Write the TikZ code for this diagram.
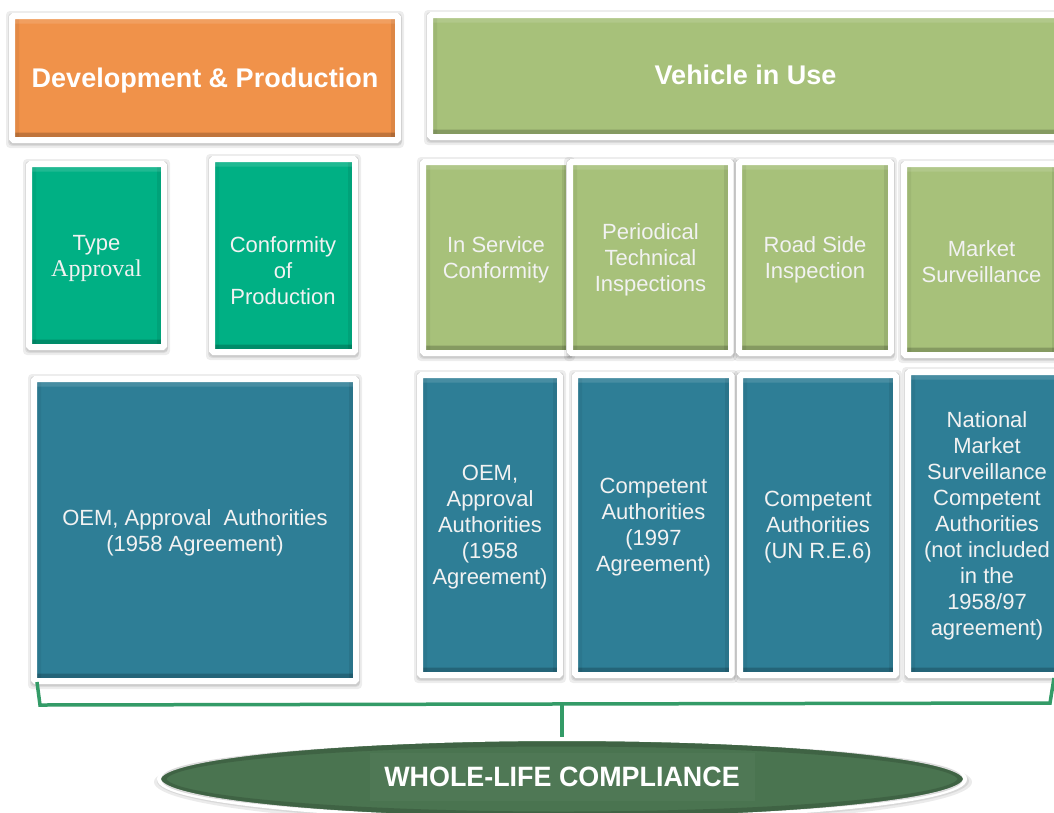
\documentclass[tikz,border=0pt]{standalone}
\usepackage{fontspec}
\setmainfont{Liberation Sans}
\newfontfamily\tmsfont{Liberation Serif}
\usepackage{graphicx}
\usetikzlibrary{shapes.geometric}
\definecolor{orangebox}{HTML}{F0924A}
\definecolor{lgreen}{HTML}{A7C17A}
\definecolor{teal}{HTML}{00B084}
\definecolor{bluebox}{HTML}{2E7E96}
\definecolor{ellgreen}{HTML}{4A7450}
\definecolor{brgreen}{HTML}{339B67}
\definecolor{offwhite}{HTML}{F2F2F2}
\tikzset{
  box/.style={rectangle, draw=white, line width=6pt, inner sep=0pt, rounded corners=1.5pt,
    path picture={
      \fill[black, opacity=0.2] (path picture bounding box.south west) rectangle ([yshift=7.5pt]path picture bounding box.south east);
      \fill[black, opacity=0.08] (path picture bounding box.south east) rectangle ([xshift=-7pt]path picture bounding box.north east);
      \fill[black, opacity=0.05] (path picture bounding box.south west) rectangle ([xshift=7pt]path picture bounding box.north west);
      \fill[white, opacity=0.12] (path picture bounding box.north west) rectangle ([yshift=-7.5pt]path picture bounding box.north east);
    }},
  softshadow/.style={fill=black, opacity=0.07, rounded corners=4pt},
  bracket/.style={draw=brgreen, line width=3.5pt},
  lbl/.style={text=offwhite, align=center, font=\fontsize{22}{26}\selectfont, inner sep=0pt},
  headlbl/.style={text=white, align=center, font=\bfseries\fontsize{27}{32}\selectfont, inner sep=0pt},
  viulbl/.style={headlbl, yshift=3.5pt}
}
% \bx{name}{x1}{y1}{x2}{y2}{colour}{text}{text style}
\newcommand\bx[8]{%
  \fill[softshadow] ({#2-9},{#3-8}) rectangle ({#4+9},{#5+11});
  \fill[softshadow] ({#2-7},{#3-6}) rectangle ({#4+7},{#5+9});
  \fill[softshadow] ({#2-6},{#3-5}) rectangle ({#4+7},{#5+8});
  \node[box, fill=#6, minimum width={#4-#2+6}, minimum height={#5-#3+6}] (#1) at ({(#2+#4)/2},{(#3+#5)/2}) {};
  \node[#8] (#1t) at ({(#2+#4)/2},{(#3+#5)/2+2.5}) {#7};}
\begin{document}
\begin{tikzpicture}[x=1pt,y=-1pt]
\useasboundingbox (0,0) rectangle (1054,812);
\fill[white] (0,0) rectangle (1054,812);
\clip (0,0) rectangle (1054,812);
% header row
\bx{dev}{15}{19}{395}{137}{orangebox}{Development \& Production}{headlbl}
\bx{viu}{433}{18}{1058}{134}{lgreen}{Vehicle in Use}{viulbl}
% second row
\bx{ta}{32}{167}{161}{344}{teal}{Type\\[0pt]{\tmsfont\fontsize{24}{26}\selectfont Approval}}{lbl}
\bx{cop}{215}{162}{352}{349}{teal}{}{lbl}
\node[lbl] (coptext) at (283,271) {Conformity\\of\\Production};
\bx{isc}{426}{165}{566}{350}{lgreen}{In Service\\Conformity}{lbl}
\bx{pti}{573}{165}{728}{350}{lgreen}{Periodical\\Technical\\Inspections}{lbl}
\bx{rsi}{742}{165}{888}{350}{lgreen}{Road Side\\Inspection}{lbl}
\bx{ms}{907}{167}{1056}{352}{lgreen}{Market\\Surveillance}{lbl}
% third row
\bx{oem}{37}{382}{353}{678}{bluebox}{OEM, Approval\ \ Authorities\\(1958 Agreement)}{lbl}
\bx{oemb}{423}{378}{557}{672}{bluebox}{OEM,\\Approval\\Authorities\\(1958\\Agreement)}{lbl}
\bx{ca}{578}{378}{729}{672}{bluebox}{Competent\\Authorities\\(1997\\Agreement)}{lbl}
\bx{caun}{743}{378}{893}{672}{bluebox}{Competent\\Authorities\\(UN R.E.6)}{lbl}
\bx{nat}{911}{375}{1063}{672}{bluebox}{National\\Market\\Surveillance\\Competent\\Authorities\\(not included\\in the\\1958/97\\agreement)}{lbl}
% ellipse
\fill[black, opacity=0.08] (563,782) ellipse [x radius=409pt, y radius=44pt];
\fill[black, opacity=0.08] (563,781) ellipse [x radius=406pt, y radius=42pt];
\node[ellipse, draw=white, line width=4pt, fill=ellgreen,
  minimum width=806pt, minimum height=80pt] (whole) at (562,779) {};
\draw[black, opacity=0.14, line width=5pt] (whole.center) ellipse [x radius=398pt, y radius=35pt];
\node[fill=white, fill opacity=0.03, text opacity=1, text=white, minimum width=385pt, minimum height=48pt,
  font=\bfseries\fontsize{28}{32}\selectfont] (wtext) at (562,777) {\scalebox{0.96}[1]{WHOLE-LIFE COMPLIANCE}};
% bracket
\coordinate (bl) at (37,682);
\coordinate (blc) at (40,705);
\coordinate (brc) at (1050,703);
\coordinate (br) at (1054,678);
\coordinate (stem) at (562,704);
\draw[bracket] (bl) -- (blc) -- (brc) -- (br);
\draw[bracket] (stem) -- (whole.north);
\end{tikzpicture}
\end{document}
